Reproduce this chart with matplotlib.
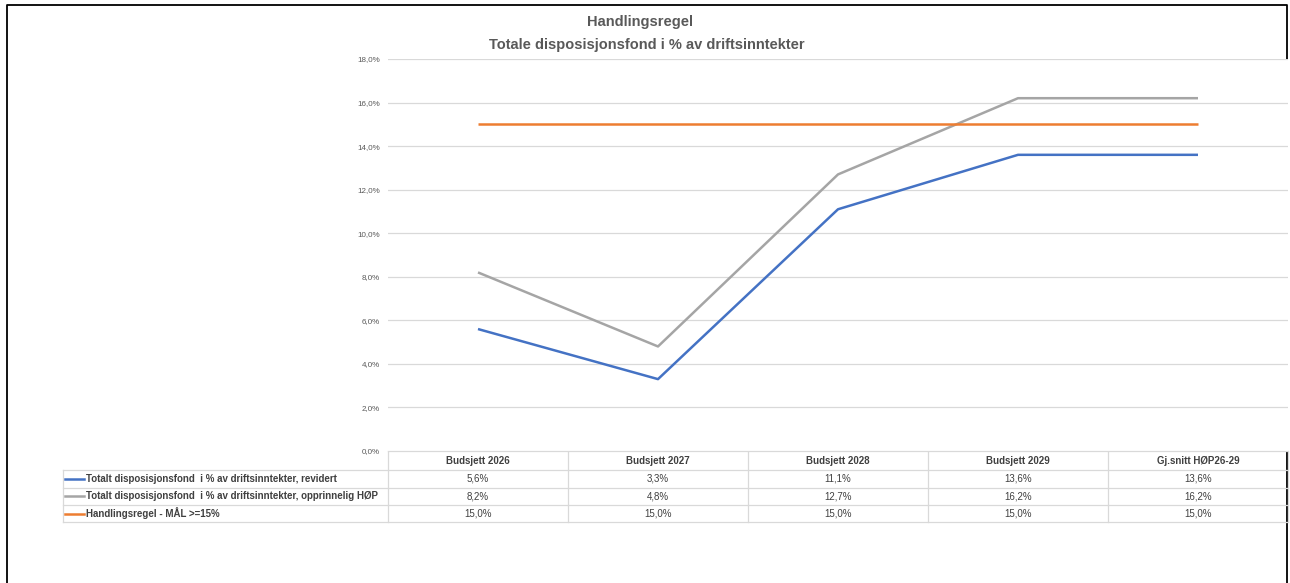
import matplotlib.pyplot as plt
from matplotlib.ticker import FuncFormatter

# Data
kategorier = ["Budsjett 2026", "Budsjett 2027", "Budsjett 2028", "Budsjett 2029", "Gj.snitt HØP26-29"]
revidert = [5.6, 3.3, 11.1, 13.6, 13.6]
opprinnelig = [8.2, 4.8, 12.7, 16.2, 16.2]
handlingsregel = [15.0, 15.0, 15.0, 15.0, 15.0]
serienavn = [
    "Totalt disposisjonsfond  i % av driftsinntekter, revidert",
    "Totalt disposisjonsfond  i % av driftsinntekter, opprinnelig HØP",
    "Handlingsregel - MÅL >=15%",
]
farger = ["#4472C4", "#A5A5A5", "#ED7D31"]

plt.rcParams['font.family'] = ['Liberation Sans Narrow', 'Liberation Sans', 'DejaVu Sans']
tekstfarge = "#595959"
linjefarge = "#D9D9D9"

W, H = 1290, 583
fig = plt.figure(figsize=(W / 100, H / 100), dpi=100)

# plot area in pixels
x0, x1 = 388, 1288
y_top, y_bot = 59, 451
ax = fig.add_axes([x0 / W, 1 - y_bot / H, (x1 - x0) / W, (y_bot - y_top) / H])
ax.set_xlim(-0.5, len(kategorier) - 0.5)
ax.set_ylim(0, 18)
ax.set_yticks(range(0, 19, 2))
ax.yaxis.set_major_formatter(FuncFormatter(lambda v, p: f"{v:.1f}%".replace(".", ",")))
ax.tick_params(axis='y', length=0, labelsize=5.8, labelcolor=tekstfarge, pad=6)
ax.set_xticks([])
ax.grid(axis='y', color=linjefarge, linewidth=0.9)
ax.set_axisbelow(True)
for s in ax.spines.values():
    s.set_visible(False)

xs = range(len(kategorier))
for serie, farge in zip([revidert, opprinnelig, handlingsregel], farger):
    ax.plot(xs, serie, color=farge, linewidth=1.8, solid_capstyle='butt')

# Overlay in pixel coords for title, table and border
ov = fig.add_axes([0, 0, 1, 1], zorder=-1)
ov.set_xlim(0, W)
ov.set_ylim(H, 0)
ov.axis('off')

# border
ov.plot([7, 7, 1287, 1287], [H + 5, 5, 5, H + 5], color='black', linewidth=1.3)

ov.text(640, 22, "Handlingsregel", ha='center', va='center', fontsize=10.5, fontweight='bold', color=tekstfarge)
ov.text(647, 45, "Totale disposisjonsfond i % av driftsinntekter", ha='center', va='center',
        fontsize=10.5, fontweight='bold', color=tekstfarge)

# table
kol = [x0 + i * 180 for i in range(len(kategorier) + 1)]
rader = [451, 470, 487.5, 505, 522]
tab_venstre = 63
ov.plot([kol[0], kol[-1]], [rader[0], rader[0]], color=linjefarge, linewidth=0.9)
for r in rader[1:]:
    ov.plot([tab_venstre, kol[-1]], [r, r], color=linjefarge, linewidth=0.9)
for k in kol:
    ov.plot([k, k], [rader[0], rader[-1]], color=linjefarge, linewidth=0.9)
ov.plot([tab_venstre, tab_venstre], [rader[1], rader[-1]], color=linjefarge, linewidth=0.9)

for i, navn in enumerate(kategorier):
    ov.text((kol[i] + kol[i + 1]) / 2, (rader[0] + rader[1]) / 2, navn, ha='center', va='center',
            fontsize=7, fontweight='bold', color="#404040")

for j, (serie, navn, farge) in enumerate(zip([revidert, opprinnelig, handlingsregel], serienavn, farger)):
    ym = (rader[j + 1] + rader[j + 2]) / 2
    ov.plot([65, 84], [ym, ym], color=farge, linewidth=1.8)
    ov.text(86, ym, navn, ha='left', va='center', fontsize=7, fontweight='bold', color="#404040")
    for i, v in enumerate(serie):
        ov.text((kol[i] + kol[i + 1]) / 2, ym, f"{v:.1f}%".replace(".", ","), ha='center', va='center',
                fontsize=7, color="#404040")

fig.savefig("out.png", dpi=100)
